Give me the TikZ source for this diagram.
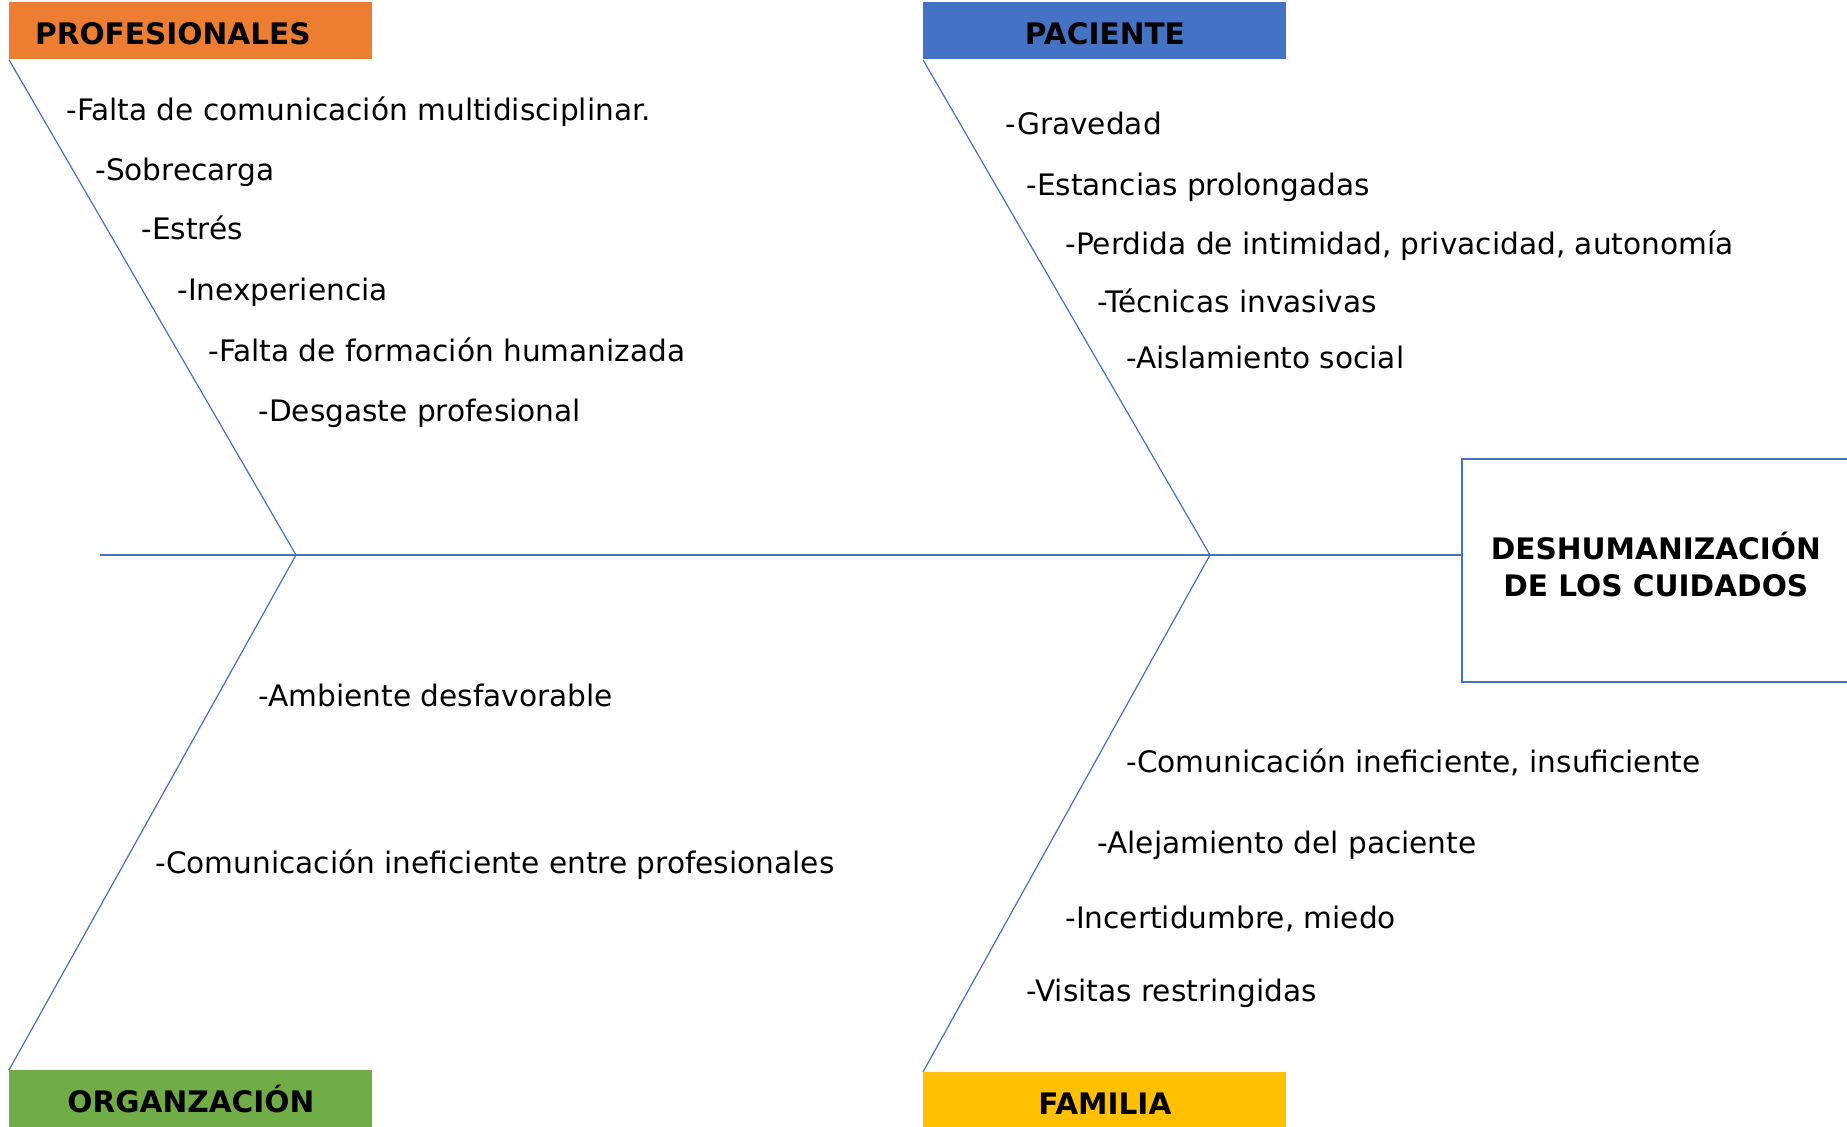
\documentclass[tikz,border=0pt]{standalone}
\usepackage{fontspec}
\setmainfont{DejaVu Sans}
\usetikzlibrary{positioning}
\definecolor{fishblue}{HTML}{4472C4}
\definecolor{profcol}{HTML}{ED7D31}
\definecolor{paccol}{HTML}{4472C4}
\definecolor{orgcol}{HTML}{70AD47}
\definecolor{famcol}{HTML}{FFC000}

\begin{document}
\begin{tikzpicture}[x=0.5pt,y=-0.5pt,font=\fontsize{14.8}{17}\selectfont,
		bone/.style={draw=fishblue,line width=0.6pt},
		head/.style={minimum width=181.5pt,minimum height=28.5pt,inner sep=0pt,text height=14pt,text depth=0pt,
			font=\fontsize{14.8}{17}\selectfont\bfseries},
		cause/.style={anchor=base west,inner sep=0pt,yshift=-5pt}]
		\useasboundingbox (0,0) rectangle (1847,1127);

		% category boxes
		\node[head,fill=profcol,anchor=north west] (prof) at (9,2) {PROFESIONALES\kern18pt};
		\node[head,fill=paccol,anchor=north west] (pac) at (923,2) {PACIENTE};
		\node[head,fill=orgcol,anchor=north west] (org) at (9,1070) {ORGANZACIÓN};
		\node[head,fill=famcol,anchor=north west,minimum height=27.5pt,text height=15pt] (fam) at (923,1072) {FAMILIA};

		% effect
		\node[draw=fishblue,line width=0.8pt,minimum width=194pt,minimum height=111.5pt,anchor=north west,
			align=center,text depth=6pt,font=\fontsize{14.8}{18.5}\selectfont\bfseries] (effect) at (1461,458) {DESHUMANIZACIÓN\\DE LOS CUIDADOS};

		% spine
		\coordinate (tail) at (100,555);
		\coordinate (j1) at (296,555);
		\coordinate (j2) at (1210,555);
		\draw[bone] (tail) -- (tail -| effect.west);
		\draw[bone] (prof.south west) -- (j1) -- (org.north west);
		\draw[bone] (pac.south west) -- (j2) -- (fam.north west);

		% causes
		\node[cause] (p1) at (66,111) {-Falta de comunicación multidisciplinar.};
		\node[cause] (p2) at (95,171) {-Sobrecarga};
		\node[cause] (p3) at (141,230) {-Estrés};
		\node[cause] (p4) at (177,291) {-Inexperiencia};
		\node[cause] (p5) at (208,352) {-Falta de formación humanizada};
		\node[cause] (p6) at (258,412) {-Desgaste profesional};

		\node[cause] (o1) at (258,697) {-Ambiente desfavorable};
		\node[cause] (o2) at (155,863) {-Comunicación ineficiente entre profesionales};

		\node[cause] (c1) at (1005,125) {-Gravedad};
		\node[cause] (c2) at (1026,186) {-Estancias prolongadas};
		\node[cause] (c3) at (1065,245) {-Perdida de intimidad, privacidad, autonomía};
		\node[cause] (c4) at (1097,303) {-Técnicas invasivas};
		\node[cause] (c5) at (1126,359) {-Aislamiento social};

		\node[cause] (f1) at (1126,763) {-Comunicación ineficiente, insuficiente};
		\node[cause] (f2) at (1097,843) {-Alejamiento del paciente};
		\node[cause] (f3) at (1065,918) {-Incertidumbre, miedo};
		\node[cause] (f4) at (1026,991) {-Visitas restringidas};

	  \end{tikzpicture}
\end{document}
